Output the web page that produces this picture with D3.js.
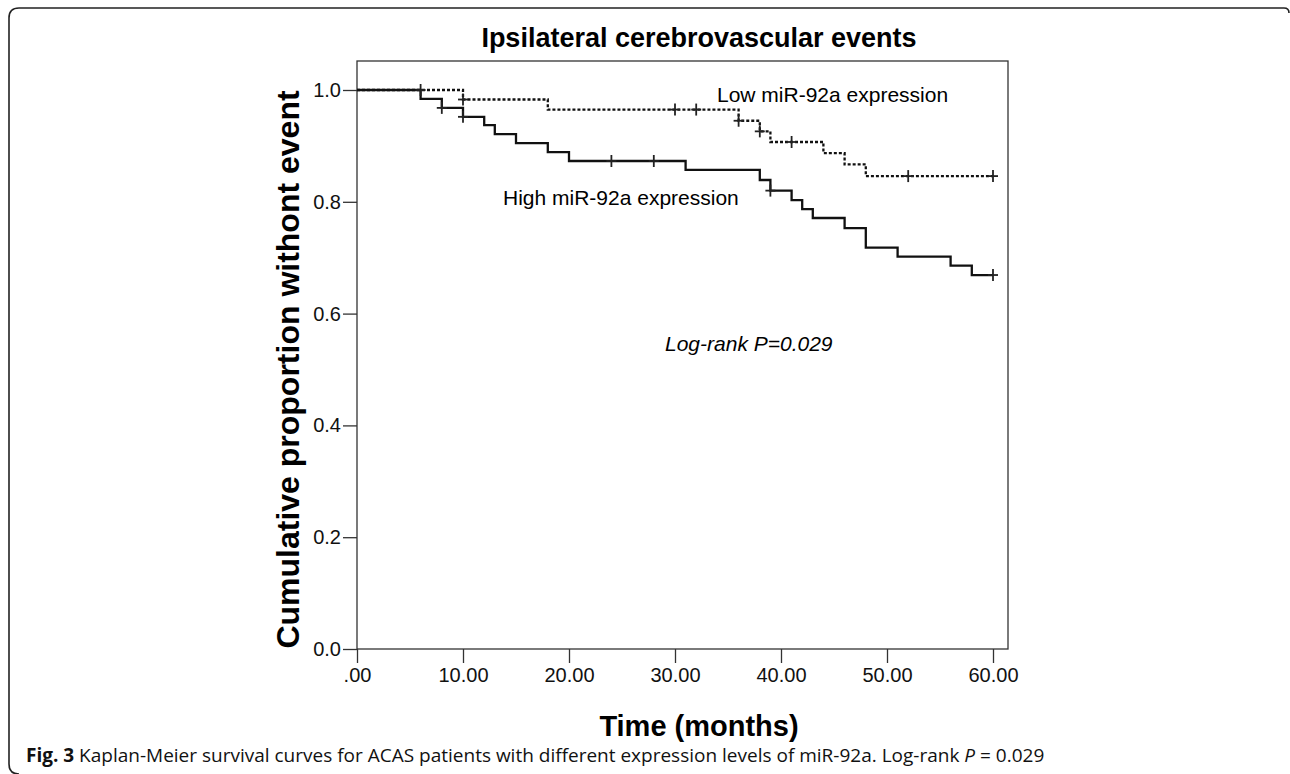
<!DOCTYPE html>
<html>
<head>
<meta charset="utf-8">
<script src="https://cdn.jsdelivr.net/npm/d3@7"></script>
<style>
  body { margin: 0; background: #fff; }
  svg { display: block; }
</style>
</head>
<body>
<div class="visHolder"></div>
<script>
const width = 1290;
const height = 774;

// Kaplan-Meier steps
const highTimes = [0, 6, 8, 10, 12, 13, 15, 18, 20, 31, 38, 39, 41, 42, 43, 46, 48, 51, 56, 58, 60];
const highSurv = [1.0, 0.984, 0.968, 0.952, 0.937, 0.921, 0.905, 0.889, 0.873, 0.857, 0.839, 0.820, 0.803, 0.787, 0.771, 0.753, 0.718, 0.702, 0.686, 0.669, 0.669];
const highCensor = [8, 10, 24, 28, 39, 60];

const lowTimes = [0, 10, 18, 36, 38, 39, 44, 46, 48, 60];
const lowSurv = [1.0, 0.983, 0.965, 0.945, 0.926, 0.907, 0.887, 0.867, 0.846, 0.846];
const lowCensor = [6, 10, 30, 32, 36, 38, 41, 52, 60];

const timeTicks = [0, 10, 20, 30, 40, 50, 60];
const propTicks = [0, 0.2, 0.4, 0.6, 0.8, 1.0];

const font = "'Liberation Sans', Arial, sans-serif";

const svg = d3.select(".visHolder")
    .append("svg")
    .attr("width", width)
    .attr("height", height);

// outer figure frame (rounded on the left)
svg.append("path")
    .attr("d", "M1289,13 Q1289,8 1284,8 H19 Q9,8 9,18 V764 Q9,774 19,774")
    .attr("fill", "none")
    .attr("stroke", "#222")
    .attr("stroke-width", 1.6);

const x = d3.scaleLinear().domain([0, 60]).range([357, 993]);
const y = d3.scaleLinear().domain([0, 1]).range([649, 90]);
const boxRight = 1008;
const boxTop = 61;
const titleX = 699;

// data area box
svg.append("rect")
    .attr("x", x(0))
    .attr("y", boxTop)
    .attr("width", boxRight - x(0))
    .attr("height", y(0) - boxTop)
    .attr("fill", "none")
    .attr("stroke", "#333")
    .attr("stroke-width", 1.3);

const xAxis = d3.axisBottom(x)
    .tickValues(timeTicks)
    .tickSize(14)
    .tickSizeOuter(0)
    .tickPadding(5)
    .tickFormat((d) => (d === 0 ? ".00" : d.toFixed(2)));

const gx = svg.append("g")
    .attr("transform", "translate(0," + y(0) + ")")
    .call(xAxis);

const yAxis = d3.axisLeft(y)
    .tickValues(propTicks)
    .tickSize(14)
    .tickSizeOuter(0)
    .tickPadding(2)
    .tickFormat((d) => d.toFixed(1));

const gy = svg.append("g")
    .attr("transform", "translate(" + x(0) + ",0)")
    .call(yAxis);

[gx, gy].forEach((g) => {
    g.select(".domain").remove();
    g.selectAll("line").attr("stroke", "#333").attr("stroke-width", 1.3);
    g.selectAll("text")
        .attr("fill", "#111")
        .style("font-family", font)
        .style("font-size", "20px");
});

// survival curves
const stepLine = d3.line()
    .x((d) => x(d[0]))
    .y((d) => y(d[1]))
    .curve(d3.curveStepAfter);

const highData = highTimes.map((t, i) => [t, highSurv[i]]);
const lowData = lowTimes.map((t, i) => [t, lowSurv[i]]);

svg.append("path")
    .datum(lowData)
    .attr("d", stepLine)
    .attr("fill", "none")
    .attr("stroke", "#111")
    .attr("stroke-width", 2.3)
    .attr("stroke-dasharray", "3,2");

svg.append("path")
    .datum(highData)
    .attr("d", stepLine)
    .attr("fill", "none")
    .attr("stroke", "#111")
    .attr("stroke-width", 2.3);

function survAt(times, surv, t) {
    let v = surv[0];
    times.forEach((tt, i) => {
        if (tt <= t) v = surv[i];
    });
    return v;
}

function drawCensor(list, times, surv) {
    const g = svg.append("g").attr("stroke", "#222").attr("stroke-width", 1.8);
    list.forEach((t) => {
        const cx = x(t);
        const cy = y(survAt(times, surv, t));
        g.append("line").attr("x1", cx).attr("x2", cx).attr("y1", cy - 6).attr("y2", cy + 6);
        g.append("line").attr("x1", cx - 5).attr("x2", cx + 5).attr("y1", cy).attr("y2", cy);
    });
}
drawCensor(highCensor, highTimes, highSurv);
drawCensor(lowCensor, lowTimes, lowSurv);

// titles and labels
svg.append("text")
    .attr("x", titleX)
    .attr("y", 47)
    .attr("text-anchor", "middle")
    .style("font-family", font)
    .style("font-weight", "bold")
    .style("font-size", "27px")
    .text("Ipsilateral cerebrovascular events");

svg.append("text")
    .attr("transform", "translate(299," + (y(0) + y(1)) / 2 + ") rotate(-90)")
    .attr("text-anchor", "middle")
    .style("font-family", font)
    .style("font-weight", "bold")
    .style("font-size", "32px")
    .text("Cumulative proportion withont event");

svg.append("text")
    .attr("x", titleX)
    .attr("y", 736)
    .attr("text-anchor", "middle")
    .style("font-family", font)
    .style("font-weight", "bold")
    .style("font-size", "29px")
    .text("Time (months)");

svg.append("text")
    .attr("x", 717)
    .attr("y", 102)
    .style("font-family", font)
    .style("font-size", "21px")
    .text("Low miR-92a expression");

svg.append("text")
    .attr("x", 503)
    .attr("y", 205)
    .style("font-family", font)
    .style("font-size", "21px")
    .text("High miR-92a expression");

svg.append("text")
    .attr("x", 665)
    .attr("y", 351)
    .style("font-family", font)
    .style("font-size", "21px")
    .style("font-style", "italic")
    .text("Log-rank P=0.029");

// caption
const cap = svg.append("text")
    .attr("x", 26)
    .attr("y", 762)
    .style("font-family", "'Open Sans', 'Noto Sans', sans-serif")
    .style("font-size", "19px")
    .attr("fill", "#111");
cap.append("tspan").style("font-weight", "bold").text("Fig. 3");
cap.append("tspan").text(" Kaplan-Meier survival curves for ACAS patients with different expression levels of miR-92a. Log-rank ");
cap.append("tspan").style("font-style", "italic").text("P");
cap.append("tspan").text(" = 0.029");
</script>
</body>
</html>
